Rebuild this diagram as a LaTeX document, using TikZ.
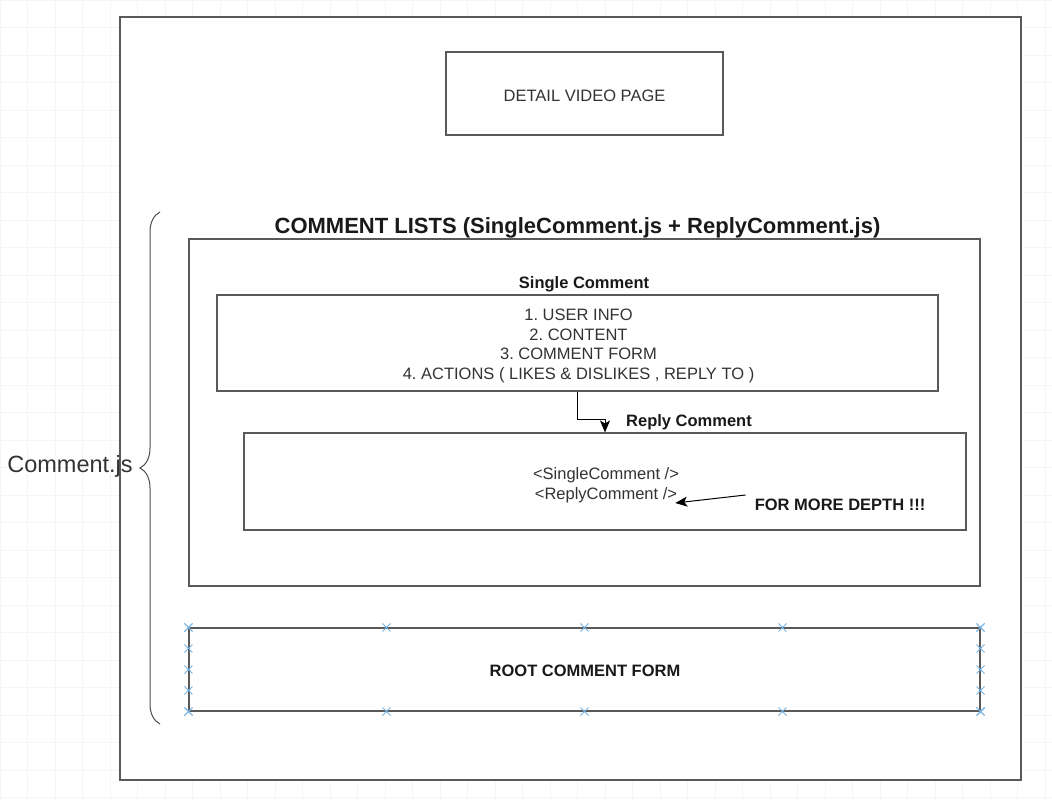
\documentclass[tikz,border=0pt]{standalone}
\usepackage{fontspec}
\setmainfont{Liberation Sans}
\usepackage{xcolor}
\usetikzlibrary{arrows.meta, positioning, calc, decorations.pathreplacing}
\frenchspacing

\begin{document}
\begin{tikzpicture}[
    x=1pt, y=-1pt,
    box/.style={rectangle, draw=black!65, line width=1.1pt, inner sep=0pt},
    txt/.style={text=black!80, font=\fontsize{16.5}{19.5}\selectfont, align=center, inner sep=0pt},
    btxt/.style={text=black!90, font=\fontsize{16.5}{20}\selectfont\bfseries, align=center, inner sep=0pt},
    arrow/.style={-{Stealth[length=12pt, width=10pt, inset=3pt]}, line width=1pt, draw=black},
    handle/.style={draw=cyan!70!blue!55, line width=0.9pt}
  ]
    \useasboundingbox (0,0) rectangle (1052,800);
    \draw[black!4, step=27.5pt] (0,0) grid (1052,800);

    \node[box, fill=white, line width=1.4pt, minimum width=901pt, minimum height=763pt] (page) at (570.5,398.5) {};
    \node[box, minimum width=277pt, minimum height=83pt] (detail) at (584.5,93.5) {};
    \node[txt] at (584.5,95.5) {DETAIL VIDEO PAGE};

    \node[btxt, font=\fontsize{22}{26}\selectfont\bfseries] (title) at (577.5,228) {COMMENT LISTS (SingleComment.js + ReplyComment.js)};
    \node[box, minimum width=791pt, minimum height=347pt] (list) at (584.5,412.5) {};

    \node[btxt] (sctitle) at (584,284) {Single Comment};
    \node[box, minimum width=721pt, minimum height=96pt] (single) at (577.5,343) {};
    \node[txt] (items) at (578.5,346) {1. USER INFO\\2. CONTENT\\3. COMMENT FORM\\4. ACTIONS ( LIKES \& DISLIKES , REPLY TO )};

    \node[btxt] (rctitle) at (689,422) {Reply Comment};
    \node[box, minimum width=722pt, minimum height=97pt] (reply) at (605,481.5) {};
    \node[txt] (sc) at (606,475) {<SingleComment />};
    \node[txt] (rc) at (606,495) {<ReplyComment />};
    \node[btxt] (depth) at (840,505) {FOR MORE DEPTH !!!};

    \node[box, minimum width=791pt, minimum height=83pt] (root) at (584.5,669.5) {};
    \node[btxt] at (585,671) {ROOT COMMENT FORM};

    \draw[arrow] (single.south) -- ++(0,28) -| (reply.north);
    \draw[arrow] ([xshift=-9pt, yshift=10pt]depth.west) -- ([xshift=-2pt, yshift=-8pt]rc.east);

    \draw[black!70, line width=1pt, decorate, decoration={brace, amplitude=20pt, aspect=0.5}] (160,724) -- (160,212);
    \node[txt, font=\fontsize{23.5}{28}\selectfont] (cjs) at (70,466) {Comment.js};

    \foreach \t in {0,0.25,0.5,0.75,1} {
      \foreach \a/\b in {north west/north east, south west/south east, north west/south west, north east/south east}
        \draw[handle] ($(root.\a)!\t!(root.\b)$) ++(-4,-4) -- ++(8,8) ++(-8,0) -- ++(8,-8);
    }
  \end{tikzpicture}
\end{document}
